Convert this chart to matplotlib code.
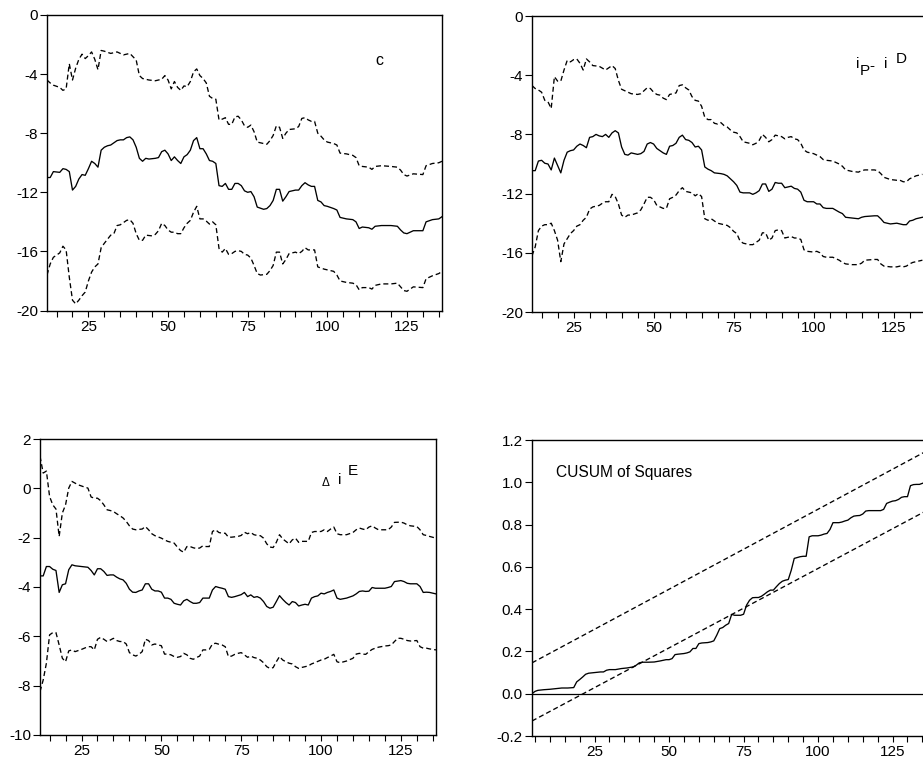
import matplotlib
matplotlib.use('Agg')
import matplotlib.pyplot as plt

plt.rcParams['font.family'] = ['Liberation Sans', 'DejaVu Sans']

# ---------------- Panel 1: c ----------------
c_up_x = [12,13,14,16,17,18,19,20,21,22,23,24,25,26,27,28,29,30,32,34,36,38,40,41,42,44,46,48,49,50,
          51,52,53,54,55,56,57,58,59,60,61,62,63,64,65,66,67,68,69,70,71,72,73,74,75,76,77,78,80,81,
          82,83,84,85,86,87,88,90,91,92,93,94,95,96,97,98,99,100,102,103,104,106,108,109,110,111,113,114,115,117,
          120,122,123,124,125,127,130,131,133,135,136]
c_up_y = [-4.4,-4.6,-4.75,-4.9,-5.1,-5.0,-3.3,-4.4,-3.6,-3.0,-2.65,-2.95,-2.75,-2.5,-3.0,-3.7,-2.4,-2.45,-2.6,-2.5,
          -2.7,-2.6,-3.05,-4.1,-4.3,-4.4,-4.45,-4.35,-4.1,-4.4,
          -5.0,-4.5,-4.9,-5.1,-4.8,-4.85,-4.5,-3.85,-3.65,-4.1,
          -4.3,-4.6,-5.5,-5.65,-5.7,-7.1,-7.05,-6.95,-7.4,-7.4,
          -6.9,-6.85,-7.1,-7.5,-7.6,-7.45,-7.9,-8.6,-8.7,-8.75,
          -8.5,-8.15,-7.5,-7.6,-8.35,-8.0,-7.75,-7.7,-7.55,-7.0,
          -6.95,-7.1,-7.2,-7.2,-8.0,-8.2,-8.45,-8.6,-8.7,-8.8,
          -9.35,-9.4,-9.5,-9.65,-10.2,-10.25,-10.3,-10.45,-10.25,-10.2,
          -10.25,-10.3,-10.5,-10.8,-10.9,-10.75,-10.8,-10.2,-10.05,-10.0,-9.9]
c_mid_x = [12,13,14,16,17,18,19,20,21,22,23,24,25,26,27,28,29,30,31,32,34,35,36,37,38,39,40,41,42,43,
           44,46,47,48,49,50,51,52,53,54,55,56,57,58,59,60,61,62,63,64,65,66,67,68,69,70,71,72,73,74,
           75,76,77,78,80,81,82,83,84,85,86,87,88,90,91,92,93,94,95,96,97,98,99,100,102,103,104,106,108,109,
           110,111,113,114,115,117,120,122,123,124,125,127,130,131,133,135,136]
c_mid_y = [-11.0,-11.0,-10.6,-10.65,-10.4,-10.45,-10.6,-11.85,-11.6,-11.1,
           -10.8,-10.85,-10.4,-9.9,-10.05,-10.3,-9.15,-8.95,-8.85,-8.8,
           -8.5,-8.45,-8.45,-8.3,-8.25,-8.45,-8.95,-9.7,-9.9,-9.7,
           -9.75,-9.7,-9.65,-9.25,-9.15,-9.4,-9.85,-9.6,-9.85,-10.05,
           -9.6,-9.45,-9.15,-8.5,-8.3,-9.05,-9.05,-9.4,-9.85,-9.9,
           -10.05,-11.55,-11.6,-11.4,-11.8,-11.8,-11.4,-11.4,-11.55,-11.9,
           -12.0,-11.95,-12.3,-13.0,-13.15,-13.1,-12.9,-12.55,-11.8,-11.8,
           -12.6,-12.3,-11.95,-11.85,-11.85,-11.55,-11.35,-11.5,-11.6,-11.6,
           -12.55,-12.65,-12.9,-12.95,-13.1,-13.2,-13.7,-13.8,-13.85,-14.0,
           -14.45,-14.35,-14.4,-14.5,-14.3,-14.25,-14.25,-14.3,-14.55,-14.75,
           -14.8,-14.6,-14.6,-14.0,-13.85,-13.8,-13.65]
c_lo_x = [12,13,14,16,17,18,19,20,21,22,23,24,25,26,27,28,29,30,32,33,34,35,37,38,39,40,41,42,43,45,
          46,47,48,49,50,51,52,53,54,55,56,57,58,59,60,61,62,63,64,65,66,67,68,69,70,71,72,73,74,75,
          76,77,78,79,81,82,83,84,85,86,87,88,90,91,92,93,94,96,97,99,100,102,103,104,106,108,109,110,111,113,
          114,115,117,120,122,123,124,125,127,130,131,133,135,136]
c_lo_y = [-17.6,-16.85,-16.4,-16.1,-15.65,-15.9,-17.75,-19.3,-19.55,-19.3,
          -19.0,-18.75,-18.0,-17.4,-17.05,-16.85,-15.75,-15.45,-14.9,-14.8,
          -14.25,-14.2,-13.9,-13.85,-14.1,-14.8,-15.25,-15.25,-14.9,-14.95,
          -14.85,-14.6,-14.1,-14.25,-14.55,-14.7,-14.7,-14.8,-14.8,-14.4,
          -14.1,-13.9,-13.35,-12.95,-13.8,-13.8,-13.95,-14.15,-14.0,-14.2,
          -15.8,-16.05,-15.8,-16.2,-16.15,-16.0,-15.95,-16.0,-16.2,-16.25,
          -16.45,-16.95,-17.5,-17.6,-17.55,-17.3,-16.95,-16.05,-16.05,-16.85,
          -16.55,-16.15,-16.05,-16.15,-16.0,-15.75,-15.9,-15.9,-17.05,-17.2,
          -17.25,-17.35,-17.6,-18.0,-18.1,-18.15,-18.25,-18.6,-18.45,-18.45,
          -18.55,-18.3,-18.2,-18.2,-18.15,-18.4,-18.65,-18.7,-18.4,-18.45,
          -17.85,-17.65,-17.5,-17.35]

# ---------------- Panel 2: iP - iD ----------------
p_up_x = [12,13,14,15,16,17,18,19,20,21,22,23,24,25,26,27,28,29,30,31,33,35,36,37,38,39,40,41,43,45,
          46,47,48,49,50,51,52,53,54,55,57,58,59,60,61,62,63,64,65,66,67,68,69,70,71,72,73,74,75,76,
          77,78,80,81,82,83,84,85,86,87,88,89,90,91,92,93,94,95,96,97,98,100,101,102,103,104,106,108,109,110,
          112,114,115,116,119,120,121,122,124,126,127,128,129,130,131,132,133,134]
p_up_y = [-4.7,-4.9,-5.0,-5.15,-5.7,-5.8,-6.25,-4.1,-4.4,-4.4,
          -3.65,-3.0,-3.1,-2.95,-2.9,-3.2,-3.65,-2.9,-3.1,-3.35,
          -3.4,-3.65,-3.5,-3.35,-3.55,-4.35,-4.95,-5.05,-5.25,-5.3,
          -5.25,-5.05,-4.85,-4.9,-5.15,-5.3,-5.35,-5.55,-5.65,-5.3,
          -5.2,-4.7,-4.65,-4.85,-5.0,-5.45,-5.7,-5.75,-6.1,-6.85,
          -7.0,-7.0,-7.25,-7.3,-7.2,-7.4,-7.5,-7.7,-7.85,-7.9,
          -8.15,-8.5,-8.6,-8.7,-8.6,-8.4,-8.0,-8.2,-8.5,-8.35,
          -8.05,-8.1,-8.15,-8.3,-8.2,-8.15,-8.3,-8.35,-8.6,-9.05,
          -9.2,-9.3,-9.4,-9.5,-9.7,-9.75,-9.8,-10.0,-10.15,-10.4,
          -10.5,-10.55,-10.45,-10.4,-10.4,-10.45,-10.65,-10.9,-11.05,-11.1,
          -11.1,-11.2,-11.2,-11.0,-10.9,-10.8,-10.75,-10.7]
p_mid_x = [12,13,14,15,16,17,18,19,20,21,22,23,24,25,26,27,28,29,30,31,32,33,34,35,36,37,38,39,40,41,
           42,43,45,46,47,48,49,50,51,52,53,54,55,56,57,58,59,60,61,62,63,64,65,66,67,68,69,71,72,73,
           74,75,76,77,78,80,81,82,83,84,85,86,87,88,89,90,91,92,93,94,95,96,97,98,100,101,102,103,104,106,
           108,109,110,112,114,115,116,119,120,121,122,124,126,127,128,129,130,131,132,134]
p_mid_y = [-10.45,-10.45,-9.8,-9.75,-9.95,-10.0,-10.4,-9.6,-10.1,-10.6,
           -9.75,-9.2,-9.1,-9.05,-8.8,-8.65,-8.75,-8.9,-8.2,-8.15,
           -8.0,-8.1,-8.15,-8.0,-8.2,-7.9,-7.75,-7.9,-8.85,-9.35,
           -9.4,-9.25,-9.35,-9.3,-9.15,-8.65,-8.55,-8.65,-8.95,-9.1,
           -9.25,-9.35,-8.8,-8.75,-8.6,-8.2,-8.05,-8.35,-8.4,-8.55,
           -8.85,-8.8,-9.05,-10.2,-10.35,-10.45,-10.6,-10.65,-10.7,-10.8,
           -11.0,-11.2,-11.45,-11.9,-11.95,-11.95,-12.05,-11.95,-11.8,-11.35,
           -11.35,-11.85,-11.7,-11.25,-11.3,-11.3,-11.6,-11.55,-11.5,-11.65,
           -11.7,-11.9,-12.45,-12.55,-12.55,-12.7,-12.7,-12.95,-13.0,-13.0,
           -13.25,-13.35,-13.6,-13.65,-13.7,-13.6,-13.55,-13.5,-13.5,-13.7,
           -13.95,-14.05,-14.0,-14.05,-14.1,-14.1,-13.85,-13.8,-13.7,-13.6]
p_lo_x = [12,13,14,15,16,17,18,19,20,21,22,23,24,25,26,27,28,29,30,31,33,34,35,36,37,38,39,40,41,42,
          43,45,46,47,48,49,50,51,52,53,54,55,56,57,58,59,60,61,62,63,64,65,66,67,68,69,70,72,73,74,
          75,76,77,78,80,81,82,83,84,85,86,87,88,89,90,91,92,93,94,95,96,97,98,100,101,102,103,104,106,108,
          109,110,112,114,115,116,119,120,121,122,124,126,127,128,129,130,131,132,134]
p_lo_y = [-16.2,-15.6,-14.5,-14.2,-14.1,-14.1,-14.0,-14.5,-15.15,-16.6,
          -15.4,-15.05,-14.7,-14.5,-14.2,-14.1,-13.8,-13.6,-13.05,-12.9,
          -12.8,-12.65,-12.55,-12.55,-12.05,-12.2,-12.7,-13.45,-13.6,-13.45,
          -13.45,-13.3,-13.1,-12.7,-12.25,-12.25,-12.4,-12.8,-12.9,-13.0,
          -13.0,-12.35,-12.25,-12.1,-11.8,-11.6,-11.85,-11.9,-11.95,-12.15,
          -12.0,-12.2,-13.7,-13.8,-13.7,-13.85,-14.0,-14.1,-14.15,-14.3,
          -14.55,-14.7,-15.2,-15.35,-15.45,-15.45,-15.3,-15.15,-14.65,-14.65,
          -15.15,-15.0,-14.5,-14.45,-14.5,-15.0,-14.95,-14.9,-15.0,-15.0,
          -15.1,-15.8,-15.9,-15.95,-15.9,-16.0,-16.25,-16.3,-16.3,-16.5,
          -16.65,-16.75,-16.8,-16.8,-16.7,-16.5,-16.45,-16.45,-16.75,-16.9,
          -16.95,-16.95,-16.9,-16.95,-16.9,-16.75,-16.65,-16.6,-16.5]

# ---------------- Panel 3: delta iE ----------------
e_up_x = [12,13,14,15,16,17,18,19,20,21,22,23,24,26,27,28,29,30,31,32,33,34,35,36,37,38,39,40,41,42,
          44,45,46,47,48,50,51,52,54,55,56,57,58,59,60,61,62,63,64,65,66,67,68,69,70,71,72,74,75,76,
          77,78,79,80,81,82,83,84,85,86,87,88,89,90,91,92,93,94,96,97,98,100,101,102,103,104,105,106,108,110,
          111,112,113,114,115,116,117,118,120,121,122,123,125,126,127,128,130,131,132,133,134,136]
e_up_y = [1.3,0.62,0.7,-0.33,-0.67,-0.84,-1.95,-1.0,-0.67,0.01,
          0.28,0.21,0.14,0.05,0.01,-0.35,-0.4,-0.4,-0.5,-0.67,
          -0.87,-0.9,-0.94,-1.03,-1.11,-1.2,-1.34,-1.52,-1.65,-1.68,
          -1.65,-1.55,-1.68,-1.84,-1.92,-2.02,-2.09,-2.15,-2.22,-2.38,
          -2.52,-2.59,-2.36,-2.36,-2.41,-2.44,-2.42,-2.33,-2.36,-2.36,
          -1.75,-1.68,-1.79,-1.82,-1.82,-1.98,-1.98,-1.95,-1.91,-1.78,
          -1.84,-1.79,-1.88,-1.91,-1.92,-2.02,-2.25,-2.38,-2.4,-2.19,
          -1.88,-2.05,-2.15,-2.25,-2.09,-2.02,-2.19,-2.15,-2.15,-1.79,
          -1.75,-1.75,-1.68,-1.75,-1.65,-1.57,-1.84,-1.88,-1.88,-1.79,
          -1.68,-1.61,-1.65,-1.68,-1.57,-1.52,-1.61,-1.68,-1.68,-1.68,
          -1.57,-1.38,-1.37,-1.41,-1.48,-1.52,-1.55,-1.68,-1.88,-1.91,
          -1.95,-2.02]
e_mid_x = [12,13,14,15,16,17,18,19,20,21,22,23,25,27,28,29,30,31,32,33,34,35,36,37,38,39,40,41,42,43,
           44,45,46,47,48,49,50,51,52,53,54,55,56,57,58,59,60,61,62,63,64,65,66,67,68,69,70,71,72,73,
           74,75,76,77,78,79,80,81,82,83,84,85,86,87,88,89,90,91,92,93,94,95,96,97,98,99,100,101,102,103,
           104,105,106,108,110,111,112,113,114,115,116,117,118,120,121,122,123,125,126,127,128,130,131,132,133,134,136]
e_mid_y = [-3.55,-3.55,-3.17,-3.17,-3.28,-3.33,-4.22,-3.91,-3.87,-3.3,
           -3.1,-3.14,-3.17,-3.2,-3.33,-3.51,-3.26,-3.26,-3.37,-3.53,
           -3.51,-3.51,-3.6,-3.67,-3.71,-3.85,-4.09,-4.21,-4.22,-4.16,
           -4.12,-3.87,-3.87,-4.09,-4.16,-4.16,-4.21,-4.45,-4.45,-4.5,
           -4.66,-4.7,-4.73,-4.56,-4.5,-4.59,-4.66,-4.66,-4.63,-4.45,
           -4.45,-4.45,-4.12,-3.98,-4.02,-4.05,-4.09,-4.39,-4.42,-4.39,
           -4.35,-4.31,-4.22,-4.39,-4.32,-4.42,-4.39,-4.45,-4.59,-4.79,
           -4.86,-4.82,-4.59,-4.35,-4.5,-4.63,-4.73,-4.59,-4.63,-4.77,
           -4.73,-4.7,-4.73,-4.45,-4.39,-4.36,-4.25,-4.28,-4.22,-4.18,
           -4.12,-4.45,-4.5,-4.45,-4.36,-4.28,-4.18,-4.16,-4.18,-4.17,
           -4.02,-4.05,-4.05,-4.05,-4.02,-3.98,-3.78,-3.74,-3.78,-3.85,
           -3.87,-3.87,-3.98,-4.22,-4.21,-4.22,-4.28]
e_lo_x = [12,13,14,15,16,17,18,19,20,21,22,23,25,27,28,29,30,31,32,33,34,35,36,37,38,39,40,41,42,43,
          44,45,46,47,48,49,50,51,52,53,54,55,56,57,58,59,60,61,62,63,64,65,66,67,68,69,70,71,72,73,
          74,75,76,77,78,79,80,81,82,83,84,85,86,87,88,89,90,91,92,93,94,96,97,98,100,101,102,103,104,105,
          106,108,110,111,112,113,114,115,116,117,118,120,121,122,123,124,125,126,127,128,130,131,132,133,134,136]
e_lo_y = [-8.24,-7.77,-7.09,-5.94,-5.85,-5.85,-6.35,-6.89,-7.03,-6.59,
          -6.55,-6.62,-6.53,-6.42,-6.42,-6.55,-6.12,-6.04,-6.12,-6.21,
          -6.15,-6.08,-6.17,-6.21,-6.21,-6.31,-6.66,-6.75,-6.8,-6.73,
          -6.62,-6.12,-6.17,-6.35,-6.31,-6.35,-6.38,-6.72,-6.72,-6.75,
          -6.82,-6.85,-6.82,-6.69,-6.75,-6.89,-6.93,-6.86,-6.8,-6.55,
          -6.55,-6.53,-6.31,-6.28,-6.32,-6.35,-6.42,-6.82,-6.8,-6.73,
          -6.69,-6.66,-6.75,-6.85,-6.8,-6.86,-6.89,-6.96,-7.07,-7.23,
          -7.3,-7.27,-7.03,-6.82,-6.96,-7.03,-7.09,-7.12,-7.23,-7.3,
          -7.26,-7.2,-7.12,-7.07,-6.96,-6.93,-6.86,-6.8,-6.73,-7.03,
          -7.07,-7.0,-6.89,-6.72,-6.69,-6.72,-6.73,-6.62,-6.53,-6.48,
          -6.44,-6.39,-6.38,-6.35,-6.21,-6.08,-6.08,-6.12,-6.17,-6.19,
          -6.17,-6.42,-6.48,-6.48,-6.51,-6.55]

# ---------------- Panel 4: CUSUM of squares ----------------
cs_x = [4,5,6,8,10,12,14,16,18,19,20,21,22,23,25,27,28,29,30,32,34,36,38,39,40,41,43,45,47,48,
        49,50,51,52,53,55,56,57,58,59,60,61,63,64,65,66,67,68,69,70,71,72,73,74,75,76,77,78,79,80,
        81,82,83,84,85,86,87,88,89,90,91,92,93,94,95,96,97,98,100,101,102,103,104,105,106,107,108,109,110,111,
        112,113,114,115,116,117,119,121,122,123,124,125,126,127,128,129,130,131,132,133,134,135,136]
cs_y = [0.0,0.011,0.016,0.019,0.021,0.024,0.027,0.027,0.029,0.056,
        0.067,0.079,0.092,0.097,0.1,0.103,0.103,0.111,0.114,0.114,
        0.119,0.122,0.127,0.135,0.146,0.149,0.149,0.15,0.155,0.158,
        0.161,0.161,0.166,0.185,0.187,0.19,0.193,0.198,0.214,0.214,
        0.237,0.24,0.242,0.245,0.25,0.277,0.308,0.313,0.324,0.332,
        0.375,0.371,0.371,0.371,0.376,0.419,0.442,0.454,0.455,0.455,
        0.461,0.471,0.482,0.49,0.49,0.506,0.521,0.532,0.537,0.54,
        0.584,0.64,0.644,0.648,0.65,0.65,0.742,0.747,0.747,0.75,
        0.755,0.758,0.777,0.809,0.809,0.809,0.812,0.817,0.821,0.832,
        0.84,0.842,0.843,0.85,0.864,0.866,0.866,0.866,0.872,0.9,
        0.906,0.911,0.913,0.919,0.929,0.932,0.932,0.984,0.989,0.99,
        0.99,0.995,1.0]
cs_bound_x = [4, 136]
cs_upper = [0.146, 1.145]
cs_lower = [-0.129, 0.863]

xtick_major = [25, 50, 75, 100, 125]

W, H = 923, 765
fig = plt.figure(figsize=(W / 100, H / 100), dpi=100)


def add(l, t, r, b):
    return fig.add_axes([l / W, 1 - b / H, (r - l) / W, (b - t) / H])


DASH = (0, (3.8, 2.3))
LW = 0.95
FS = 11


def style(ax, xlim, ylim, yticks, ylabels):
    ax.set_xlim(*xlim)
    ax.set_ylim(*ylim)
    ax.set_xticks(xtick_major)
    ax.set_xticks([v for v in range(5, 140, 5) if xlim[0] <= v <= xlim[1]], minor=True)
    ax.set_yticks(yticks)
    ax.set_yticklabels(ylabels)
    ax.tick_params(axis='x', which='both', direction='out', length=4, width=0.8,
                   labelsize=FS, pad=2.5, top=False)
    ax.tick_params(axis='y', which='both', direction='out', length=5, width=0.8,
                   labelsize=FS, pad=1.5, right=False)
    for s in ax.spines.values():
        s.set_linewidth(1.0)
        s.set_color('black')


ax1 = add(47, 15, 442, 310.5)
ax1.plot(c_up_x, c_up_y, color='k', lw=LW, ls=DASH)
ax1.plot(c_mid_x, c_mid_y, color='k', lw=LW)
ax1.plot(c_lo_x, c_lo_y, color='k', lw=LW, ls=DASH)
style(ax1, (12, 136), (-20, 0), [0, -4, -8, -12, -16, -20], ['0', '-4', '-8', '-12', '-16', '-20'])

ax2 = add(532, 16, 532 + 124 * 3.2, 312)
ax2.plot(p_up_x, p_up_y, color='k', lw=LW, ls=DASH)
ax2.plot(p_mid_x, p_mid_y, color='k', lw=LW)
ax2.plot(p_lo_x, p_lo_y, color='k', lw=LW, ls=DASH)
style(ax2, (12, 136), (-20, 0), [0, -4, -8, -12, -16, -20], ['0', '-4', '-8', '-12', '-16', '-20'])

ax3 = add(40, 439, 436, 735)
ax3.plot(e_up_x, e_up_y, color='k', lw=LW, ls=DASH)
ax3.plot(e_mid_x, e_mid_y, color='k', lw=LW)
ax3.plot(e_lo_x, e_lo_y, color='k', lw=LW, ls=DASH)
style(ax3, (12, 136), (-10, 2), [2, 0, -2, -4, -6, -8, -10], ['2', '0', '-2', '-4', '-6', '-8', '-10'])

ax4 = add(532, 440, 532 + 132 * 2.98, 736)
ax4.axhline(0, color='k', lw=0.9)
ax4.plot(cs_bound_x, cs_upper, color='k', lw=LW, ls=DASH)
ax4.plot(cs_bound_x, cs_lower, color='k', lw=LW, ls=DASH)
ax4.plot(cs_x, cs_y, color='k', lw=LW)
yt4 = [1.2, 1.0, 0.8, 0.6, 0.4, 0.2, 0.0, -0.2]
style(ax4, (4, 136), (-0.2, 1.2), yt4, ['%.1f' % v for v in yt4])


def ftext(x, y, s, size=11, **kw):
    fig.text(x / W, 1 - y / H, s, fontsize=size, ha='left', va='baseline', **kw)


# panel labels
ftext(375, 65, 'c', size=11.5)
ftext(856, 68, 'i', size=11)
ftext(860, 75, 'P', size=11)
ftext(869, 70, '-', size=11)
ftext(884, 68, 'i', size=11)
ftext(896, 63, 'D', size=11)
ftext(322, 486, '\u0394', size=8.5)
ftext(338, 484, 'i', size=11)
ftext(348, 475, 'E', size=11)
ftext(556, 477, 'CUSUM of Squares', size=11.2)

fig.savefig('out.png', dpi=100)
